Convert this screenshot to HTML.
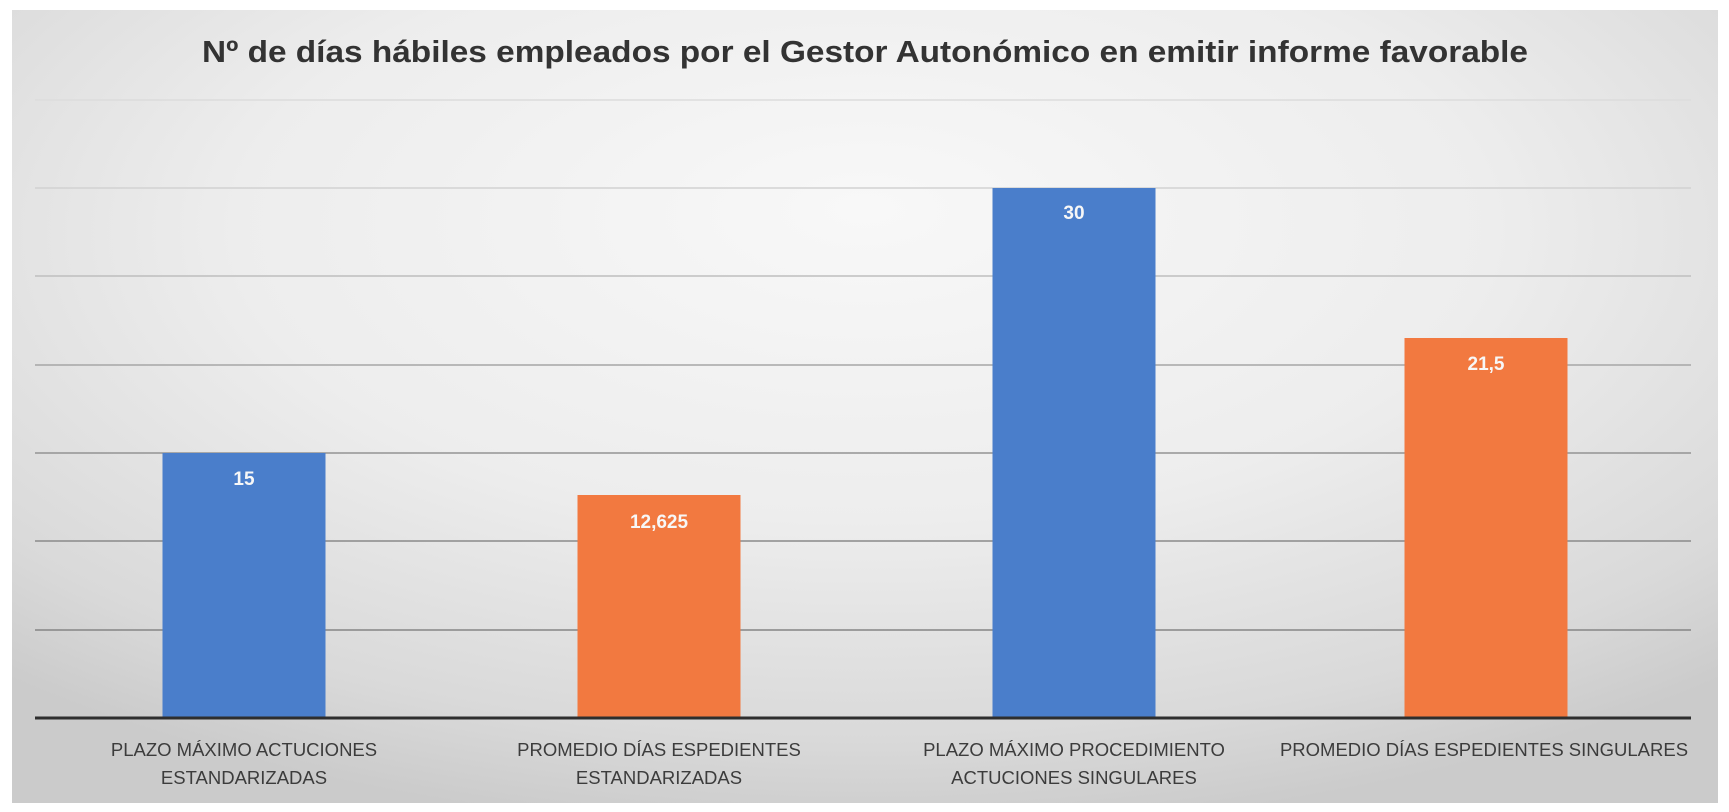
<!DOCTYPE html>
<html>
<head>
<meta charset="utf-8">
<style>
  html, body { margin:0; padding:0; background:#ffffff; }
  body { width:1729px; height:812px; overflow:hidden; }
  svg { display:block; }
  text { font-family: "Liberation Sans", "DejaVu Sans", sans-serif; }
</style>
</head>
<body>
<svg width="1729" height="812" viewBox="0 0 1729 812" xmlns="http://www.w3.org/2000/svg">
  <defs>
    <radialGradient id="bg" cx="50%" cy="30%" r="74%" fx="50%" fy="25%">
      <stop offset="0" stop-color="#f8f8f8"/>
      <stop offset="0.5" stop-color="#ededed"/>
      <stop offset="0.85" stop-color="#d9d9d9"/>
      <stop offset="1" stop-color="#cbcbcb"/>
    </radialGradient>
  </defs>
  <rect x="0" y="0" width="1729" height="812" fill="#ffffff"/>
  <rect x="12" y="10" width="1706" height="793" fill="url(#bg)"/>

  <!-- Title -->
  <text x="865" y="62" text-anchor="middle" font-size="31" font-weight="bold" fill="#333333" textLength="1326" lengthAdjust="spacingAndGlyphs">Nº de días hábiles empleados por el Gestor Autonómico en emitir informe favorable</text>

  <!-- Gridlines -->
  <g stroke-width="1.5">
    <line x1="35" y1="100" x2="1691" y2="100" stroke="#dcdcdc"/>
    <line x1="35" y1="188" x2="1691" y2="188" stroke="#d2d2d2"/>
    <line x1="35" y1="276" x2="1691" y2="276" stroke="#bebebe"/>
    <line x1="35" y1="365" x2="1691" y2="365" stroke="#a6a6a6"/>
    <line x1="35" y1="453" x2="1691" y2="453" stroke="#939393"/>
    <line x1="35" y1="541" x2="1691" y2="541" stroke="#8a8a8a"/>
    <line x1="35" y1="630" x2="1691" y2="630" stroke="#858585"/>
  </g>

  <!-- Bars -->
  <rect x="162.5" y="453" width="163" height="265" fill="#4a7ecb"/>
  <rect x="577.5" y="495" width="163" height="223" fill="#f27940"/>
  <rect x="992.5" y="188" width="163" height="530" fill="#4a7ecb"/>
  <rect x="1404.5" y="338" width="163" height="380" fill="#f27940"/>

  <!-- Axis -->
  <line x1="35" y1="718" x2="1691" y2="718" stroke="#2e2e2e" stroke-width="3"/>

  <!-- Data labels -->
  <g font-size="19" font-weight="bold" fill="#f7f7f7" text-anchor="middle">
    <text x="244" y="485">15</text>
    <text x="659" y="528">12,625</text>
    <text x="1074" y="219">30</text>
    <text x="1486" y="370">21,5</text>
  </g>

  <!-- Category labels -->
  <g font-size="18.5" fill="#3c3c3c" text-anchor="middle">
    <text x="244" y="756">PLAZO MÁXIMO ACTUCIONES</text>
    <text x="244" y="784">ESTANDARIZADAS</text>
    <text x="659" y="756">PROMEDIO DÍAS ESPEDIENTES</text>
    <text x="659" y="784">ESTANDARIZADAS</text>
    <text x="1074" y="756">PLAZO MÁXIMO PROCEDIMIENTO</text>
    <text x="1074" y="784">ACTUCIONES SINGULARES</text>
    <text x="1484" y="756">PROMEDIO DÍAS ESPEDIENTES SINGULARES</text>
  </g>
</svg>
</body>
</html>
